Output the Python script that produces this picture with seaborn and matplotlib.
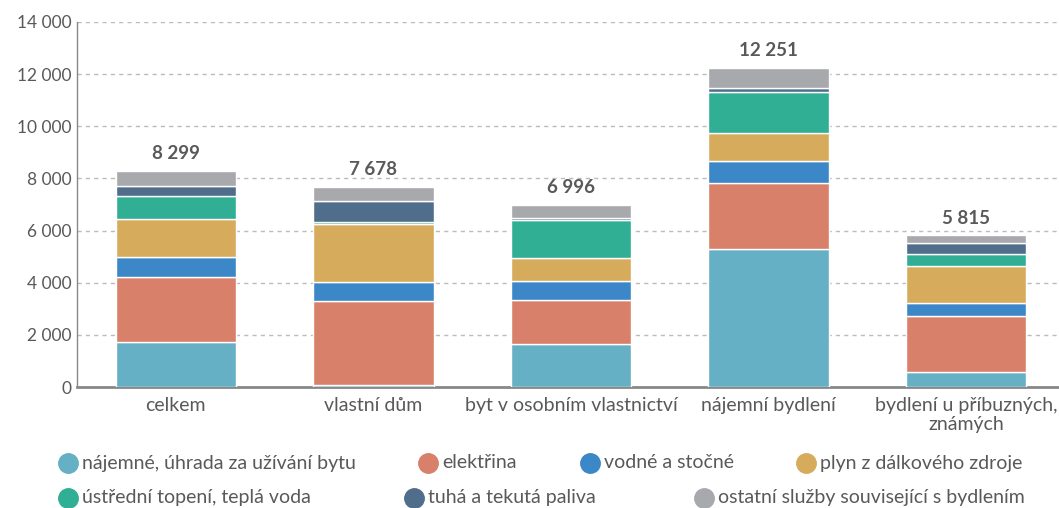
import matplotlib
matplotlib.use("Agg")
import matplotlib.pyplot as plt
from matplotlib.lines import Line2D
from matplotlib.ticker import FuncFormatter
import numpy as np
import seaborn as sns

categories = ["celkem", "vlastní dům", "byt v osobním vlastnictví", "nájemní bydlení",
              "bydlení u příbuzných,\nznámých"]
series_names = ["nájemné, úhrada za užívání bytu", "elektřina", "vodné a stočné",
                "plyn z dálkového zdroje", "ústřední topení, teplá voda",
                "tuhá a tekutá paliva", "ostatní služby související s bydlením"]
najemne = [1736, 60, 1648, 5287, 575]
elektrina = [2479, 3235, 1685, 2529, 2145]
vodne = [766, 728, 728, 843, 498]
plyn = [1456, 2234, 882, 1073, 1418]
ustredni = [881, 76, 1455, 1571, 460]
tuha = [383, 793, 77, 153, 421]
ostatni = [598, 552, 521, 795, 298]
totals = [8299, 7678, 6996, 12251, 5815]
colors = ["#65B0C4", "#D9806A", "#3B87C8", "#D6AC5C", "#30AF95", "#506E8C", "#A8A9AD"]

sns.set_theme(style="white")
plt.rcParams["font.family"] = ["Lato", "DejaVu Sans"]
txt = "#595959"

fig = plt.figure(figsize=(10.59, 5.08), dpi=100)
ax = fig.add_axes([77/1059, 1-387/508, 1-77/1059, (387-22)/508])

series = [najemne, elektrina, vodne, plyn, ustredni, tuha, ostatni]
bottom = np.zeros(len(categories))
for vals, col in zip(series, colors):
    sns.barplot(x=categories, y=vals, bottom=bottom, color=col, saturation=1,
                width=0.61, ax=ax, zorder=3)
    bottom = bottom + np.array(vals)

for i, t in enumerate(totals):
    ax.text(i, bottom[i] + 330, f"{t:,}".replace(",", " "), ha="center", va="bottom",
            fontsize=13.5, fontweight="bold", color=txt)

ax.set_ylim(0, 14000)
ax.set_xlim(-0.5, 4.47)
ax.set_yticks(np.arange(0, 14001, 2000))
ax.yaxis.set_major_formatter(FuncFormatter(lambda v, p: f"{int(v):,}".replace(",", " ")))
ax.grid(axis="y", color="#BBBBBB", linestyle=(0, (3, 3)), linewidth=1, zorder=0)
ax.set_axisbelow(True)
for s in ["top", "right"]:
    ax.spines[s].set_visible(False)
ax.spines["left"].set_color("#888888")
ax.spines["left"].set_linewidth(1)
ax.spines["bottom"].set_color("#888888")
ax.spines["bottom"].set_linewidth(2)
ax.tick_params(axis="x", length=0, labelsize=14, colors=txt, pad=7)
ax.tick_params(axis="y", length=0, labelsize=12.5, colors=txt, pad=4)
for lab in ax.get_xticklabels():
    lab.set_linespacing(1.15)
ax.set_xlabel("")
ax.set_ylabel("")

# legend
rows = [
    [(68, 0), (428, 1), (590, 2), (806, 3)],
    [(68, 4), (414, 5), (704, 6)],
]
ys = [463, 498]
for row, ypx in zip(rows, ys):
    for xpx, idx in row:
        fx, fy = xpx/1059, 1-ypx/508
        fig.add_artist(Line2D([fx], [fy], marker="o", markersize=14, color=colors[idx],
                              linestyle="none", transform=fig.transFigure))
        fig.text(fx + 14/1059, fy, series_names[idx], ha="left", va="center",
                 fontsize=14, color=txt)

fig.savefig("out.png", dpi=100)
